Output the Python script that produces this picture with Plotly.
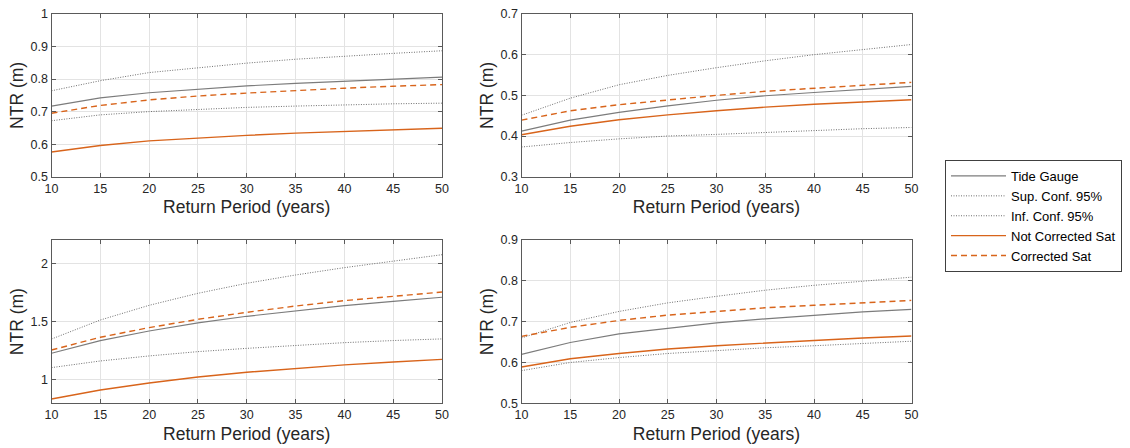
import plotly.graph_objects as go

# Return periods (years)
return_period = [10, 15, 20, 25, 30, 35, 40, 45, 50]

series_names = ["Tide Gauge", "Sup. Conf. 95%", "Inf. Conf. 95%", "Not Corrected Sat", "Corrected Sat"]

# Panel 1 (top-left)
p1_tide = [0.717, 0.742, 0.758, 0.769, 0.779, 0.787, 0.794, 0.800, 0.806]
p1_sup = [0.764, 0.795, 0.820, 0.835, 0.849, 0.861, 0.871, 0.879, 0.887]
p1_inf = [0.672, 0.690, 0.700, 0.707, 0.713, 0.717, 0.721, 0.724, 0.726]
p1_notcorr = [0.576, 0.596, 0.610, 0.619, 0.627, 0.634, 0.639, 0.644, 0.649]
p1_corr = [0.695, 0.719, 0.736, 0.748, 0.757, 0.765, 0.772, 0.778, 0.783]

# Panel 2 (top-right)
p2_tide = [0.412, 0.439, 0.458, 0.474, 0.488, 0.499, 0.507, 0.515, 0.522]
p2_sup = [0.451, 0.493, 0.526, 0.549, 0.568, 0.585, 0.600, 0.613, 0.625]
p2_inf = [0.373, 0.384, 0.393, 0.400, 0.404, 0.409, 0.413, 0.418, 0.421]
p2_notcorr = [0.403, 0.424, 0.440, 0.452, 0.462, 0.471, 0.478, 0.484, 0.489]
p2_corr = [0.439, 0.462, 0.477, 0.489, 0.500, 0.510, 0.517, 0.524, 0.532]

# Panel 3 (bottom-left)
p3_tide = [1.229, 1.337, 1.420, 1.489, 1.546, 1.594, 1.637, 1.674, 1.709]
p3_sup = [1.351, 1.514, 1.640, 1.743, 1.829, 1.900, 1.963, 2.020, 2.074]
p3_inf = [1.106, 1.163, 1.206, 1.243, 1.271, 1.297, 1.320, 1.338, 1.352]
p3_notcorr = [0.837, 0.914, 0.974, 1.026, 1.066, 1.100, 1.129, 1.154, 1.177]
p3_corr = [1.257, 1.366, 1.449, 1.520, 1.580, 1.634, 1.680, 1.720, 1.754]

# Panel 4 (bottom-right)
p4_tide = [0.620, 0.649, 0.670, 0.684, 0.697, 0.707, 0.716, 0.724, 0.730]
p4_sup = [0.660, 0.698, 0.725, 0.746, 0.762, 0.777, 0.789, 0.799, 0.809]
p4_inf = [0.580, 0.600, 0.612, 0.622, 0.629, 0.636, 0.641, 0.646, 0.652]
p4_notcorr = [0.589, 0.609, 0.622, 0.633, 0.641, 0.648, 0.654, 0.660, 0.665]
p4_corr = [0.664, 0.686, 0.703, 0.716, 0.725, 0.734, 0.740, 0.746, 0.752]

panels = [
    (p1_tide, p1_sup, p1_inf, p1_notcorr, p1_corr),
    (p2_tide, p2_sup, p2_inf, p2_notcorr, p2_corr),
    (p3_tide, p3_sup, p3_inf, p3_notcorr, p3_corr),
    (p4_tide, p4_sup, p4_inf, p4_notcorr, p4_corr),
]
y_ranges = [[0.5, 1.0], [0.3, 0.7], [0.8, 2.2], [0.5, 0.9]]
y_dticks = [0.1, 0.1, 0.5, 0.1]

GRAY = "#7c7c7c"
DOTGRAY = "#6e6e6e"
ORANGE = "#D8641B"
styles = [
    dict(color=GRAY, width=1.2, dash="solid"),
    dict(color=DOTGRAY, width=1.0, dash="1px,1.5px"),
    dict(color=DOTGRAY, width=1.0, dash="1px,1.5px"),
    dict(color=ORANGE, width=1.4, dash="solid"),
    dict(color=ORANGE, width=1.4, dash="6px,4px"),
]

FONT = "Liberation Sans, Arial, Helvetica, sans-serif"
x_domains = [[51.5 / 1130, 442 / 1130], [521.5 / 1130, 911.5 / 1130]]
y_domains = [[1 - 176.7 / 448, 1 - 14 / 448], [1 - 403.3 / 448, 1 - 240 / 448]]

fig = go.Figure()
for i, data in enumerate(panels):
    ax = "" if i == 0 else str(i + 1)
    for j, (name, vals) in enumerate(zip(series_names, data)):
        fig.add_trace(go.Scatter(
            x=return_period, y=vals, mode="lines", name=name,
            line=styles[j], showlegend=(i == 0), legendrank=j,
            xaxis="x" + ax, yaxis="y" + ax,
        ))

layout = dict(
    width=1130, height=448,
    margin=dict(l=0, r=0, t=0, b=0, autoexpand=False),
    paper_bgcolor="white", plot_bgcolor="white",
    font=dict(family=FONT, size=12, color="#262626"),
    legend=dict(
        x=945 / 1130, y=1 - 160 / 448, xanchor="left", yanchor="top",
        bordercolor="#404040", borderwidth=1, bgcolor="white",
        font=dict(family=FONT, size=13, color="#000000"),
        itemwidth=55, tracegroupgap=0,
    ),
)
for i in range(4):
    ax = "" if i == 0 else str(i + 1)
    row, col = divmod(i, 2)
    layout["xaxis" + ax] = dict(
        domain=x_domains[col], anchor="y" + ax, range=[10, 50], dtick=5, tick0=10,
        showline=True, linecolor="#5a5a5a", linewidth=1, mirror="ticks",
        ticks="inside", ticklen=4, tickcolor="#5a5a5a", automargin=False,
        showgrid=True, gridcolor="#e3e3e3", gridwidth=1, zeroline=False,
        tickfont=dict(size=12.5, color="#262626"),
        title=dict(text="Return Period (years)", font=dict(size=17.5, color="#262626"), standoff=6),
    )
    layout["yaxis" + ax] = dict(
        domain=y_domains[row], anchor="x" + ax, range=y_ranges[i], dtick=y_dticks[i],
        showline=True, linecolor="#5a5a5a", linewidth=1, mirror="ticks",
        ticks="inside", ticklen=4, tickcolor="#5a5a5a", automargin=False,
        showgrid=True, gridcolor="#e3e3e3", gridwidth=1, zeroline=False,
        tickfont=dict(size=12.5, color="#262626"),
        title=dict(text="NTR (m)", font=dict(size=17.5, color="#262626"), standoff=2),
    )
fig.update_layout(**layout)
fig.write_html(
    "out.html",
    config={"displayModeBar": False},
    post_script="document.body.style.margin='0px';document.body.style.overflow='hidden';",
)
